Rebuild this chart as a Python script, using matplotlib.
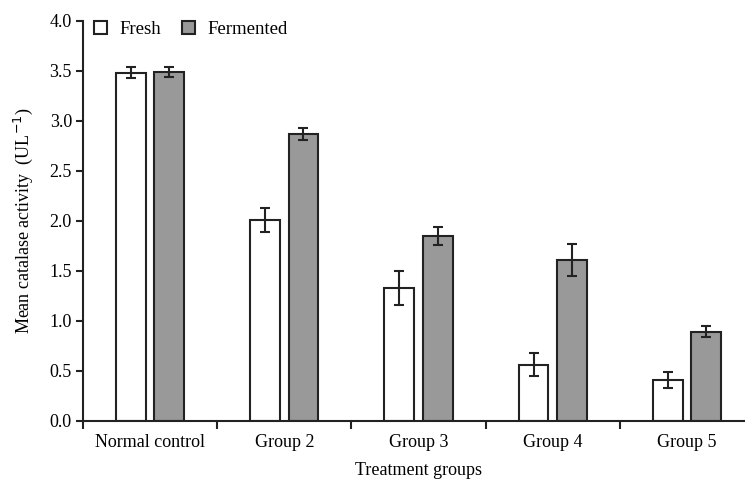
import matplotlib.pyplot as plt
import numpy as np

# Catalase activity per treatment group
groups = ['Normal control', 'Group 2', 'Group 3', 'Group 4', 'Group 5']
fresh = [3.48, 2.01, 1.33, 0.56, 0.41]
fresh_err = [0.055, 0.12, 0.17, 0.115, 0.08]
fermented = [3.49, 2.87, 1.85, 1.61, 0.89]
fermented_err = [0.05, 0.06, 0.09, 0.16, 0.055]

plt.rcParams['font.family'] = ['Liberation Serif', 'DejaVu Serif']

fig = plt.figure(figsize=(7.45, 4.79), dpi=100)
ax = fig.add_axes([0.1114, 0.1221, 0.9007, 0.835])

x = np.arange(len(groups))
w = 0.223
off = 0.143
edge = '#222222'
err_kw = dict(ecolor=edge, elinewidth=1.5, capsize=3.6, capthick=1.5)

ax.bar(x - off, fresh, w, yerr=fresh_err, color='white', edgecolor=edge,
       linewidth=1.5, error_kw=err_kw, label='Fresh')
ax.bar(x + off, fermented, w, yerr=fermented_err, color='#999999', edgecolor=edge,
       linewidth=1.5, error_kw=err_kw, label='Fermented')

ax.set_xlim(-0.5, 4.5)
ax.set_ylim(0, 4.0)
ax.set_yticks(np.arange(0, 4.01, 0.5))
ax.set_yticklabels([f'{v:.1f}' for v in np.arange(0, 4.01, 0.5)])

# boundaries get the tick marks, names sit in between
ax.set_xticks(np.arange(-0.5, 4.6, 1.0))
ax.set_xticklabels([])
ax.set_xticks(x, minor=True)
ax.set_xticklabels(groups, minor=True)
ax.tick_params(axis='x', which='minor', length=0, pad=10, labelsize=13)
ax.tick_params(axis='x', which='major', length=6, width=1.5, color=edge)
ax.tick_params(axis='y', length=5, width=1.5, color=edge, labelsize=13, pad=3)

for s in ['top', 'right']:
    ax.spines[s].set_visible(False)
for s in ['left', 'bottom']:
    ax.spines[s].set_linewidth(1.5)
    ax.spines[s].set_color(edge)

ax.set_xlabel('Treatment groups', fontsize=13, labelpad=7.5)
ax.set_ylabel('Mean catalase activity  (UL$^{-1}$)', fontsize=13, labelpad=10)

ax.legend(loc='upper left', ncol=2, frameon=False, fontsize=13.5,
          handlelength=0.68, handleheight=0.68, handletextpad=0.7,
          columnspacing=1.1, bbox_to_anchor=(-0.009, 1.04))

fig.savefig('out.png', dpi=100)
